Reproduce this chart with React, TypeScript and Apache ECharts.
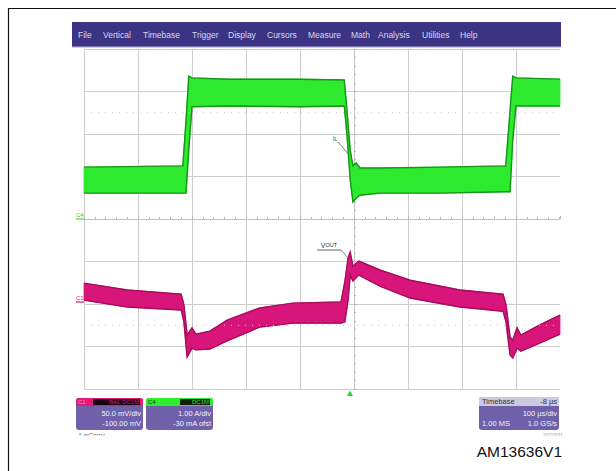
import React, { useEffect, useRef } from "react";
import * as echarts from "echarts";

// ---- data (time in µs, 100 µs/div, trigger at 0; amplitude in divisions) ----
const menuItems = ["File", "Vertical", "Timebase", "Trigger", "Display", "Cursors", "Measure", "Math", "Analysis", "Utilities", "Help"];

// C4 : inductor current (green band, upper / lower envelope)
const c4Time = [-500, -317, -311, -306, -300, -230, -100, -18, -13, -7, -2, 4, 11, 48, 159, 281, 289, 294, 300, 381.5];
const c4Top = [1.22, 1.25, 2.33, 3.36, 3.32, 3.29, 3.29, 3.27, 2.56, 1.62, 1.25, 1.32, 1.2, 1.2, 1.22, 1.25, 2.56, 3.36, 3.32, 3.29];
const c4Bottom = [0.61, 0.61, 0.61, 1.62, 2.64, 2.66, 2.64, 2.66, 1.98, 0.92, 0.4, 0.49, 0.56, 0.61, 0.61, 0.64, 0.64, 1.86, 2.66, 2.66];

// C1 : output voltage (magenta band)
const c1Time = [-500, -420, -320, -315, -309, -300, -293, -267, -235, -174, -113, -24, -17, -11, -7, -2, 9, 48, 104, 196, 276, 281.5, 289, 294, 302, 309, 344, 381.5];
const c1Top = [-1.51, -1.67, -1.77, -2.02, -2.73, -2.56, -2.71, -2.64, -2.38, -2.09, -1.98, -1.95, -1.48, -0.92, -0.78, -1.11, -0.99, -1.2, -1.44, -1.67, -1.77, -2.02, -2.78, -2.85, -2.56, -2.73, -2.49, -2.26];
const c1Bottom = [-1.91, -2.07, -2.14, -2.42, -3.25, -3.04, -3.08, -3.06, -2.87, -2.54, -2.45, -2.45, -2.42, -1.91, -1.32, -1.46, -1.32, -1.58, -1.86, -2.07, -2.17, -2.42, -3.2, -3.27, -3.04, -3.11, -2.92, -2.71];

const c1OffsetDiv = -2; // -100 mV at 50 mV/div
const c4OffsetDiv = 0;
const refLevels = [2.5, -2.5];

const xMin = -500;
const xMax = 381.5;
const yMin = -4;
const yMax = 4;

const FONT = "Liberation Sans, Arial, Helvetica, sans-serif";

function band(name: string, t: number[], top: number[], bot: number[], fill: string, edge: string) {
  const data = t.map((x, i) => [x, top[i], bot[i]]);
  return {
    type: "custom",
    name,
    data,
    silent: true,
    encode: { x: 0, y: [1, 2] },
    renderItem: (params: any, api: any) => {
      if (params.dataIndex !== 0) return null;
      const up = t.map((x, i) => api.coord([x, top[i]]));
      const dn = t.map((x, i) => api.coord([x, bot[i]]));
      const poly = up.concat(dn.slice().reverse());
      return {
        type: "group",
        children: [
          { type: "polygon", shape: { points: poly }, style: { fill, stroke: fill, lineWidth: 0.8 } },
          { type: "polyline", shape: { points: up }, style: { stroke: edge, lineWidth: 1.4, fill: null } },
          { type: "polyline", shape: { points: dn }, style: { stroke: edge, lineWidth: 1.4, fill: null } },
        ],
      };
    },
  };
}

export default function App() {
  const ref = useRef<HTMLDivElement>(null);

  useEffect(() => {
    const chart = echarts.init(ref.current!, null, { renderer: "svg" });
    const grid = { left: 84, top: 49, width: 476, height: 340 };
    const divPx = grid.height / (yMax - yMin);
    const zeroY = grid.top + grid.height / 2;

    const g: any[] = [];
    // outer frame
    g.push({ type: "rect", shape: { x: 8.5, y: 8.5, width: 640, height: 500 }, style: { fill: "none", stroke: "#111", lineWidth: 1.2 } });
    // menu bar
    g.push({ type: "rect", shape: { x: 72, y: 22, width: 489, height: 25 }, style: { fill: "#3c3483" } });
    g.push({ type: "line", shape: { x1: 72, y1: 47, x2: 561, y2: 47 }, style: { stroke: "#a9a6c6", lineWidth: 1 } });
    const menuX = [78, 103, 143, 192, 228, 267, 308, 351, 378, 422, 460];
    menuItems.forEach((m, i) => {
      g.push({ type: "text", x: menuX[i], y: 35, style: { text: m, fill: "#d9d7ea", font: `8.5px ${FONT}`, verticalAlign: "middle" } });
    });

    // channel offset markers
    const c4y = zeroY - c4OffsetDiv * divPx;
    const c1y = zeroY - c1OffsetDiv * divPx;
    g.push({ type: "text", x: 76, y: c4y - 4, style: { text: "C4", fill: "#33cc33", font: `6px ${FONT}`, verticalAlign: "middle" } });
    g.push({ type: "line", shape: { x1: 76, y1: c4y, x2: 84, y2: c4y }, style: { stroke: "#33cc33", lineWidth: 1 } });
    g.push({ type: "text", x: 76, y: c1y - 6, style: { text: "C1", fill: "#e0197c", font: `6px ${FONT}`, verticalAlign: "middle" } });
    g.push({ type: "line", shape: { x1: 76, y1: c1y - 2, x2: 84, y2: c1y - 2 }, style: { stroke: "#e0197c", lineWidth: 1.2 } });

    // trigger marker
    g.push({ type: "polygon", shape: { points: [[347, 396], [353, 396], [350, 390.5]] }, style: { fill: "#2fd02f" } });

    // annotations
    g.push({
      type: "text", x: 333, y: 138,
      style: { text: "{a|I}{b|L}", rich: { a: { font: `6.5px ${FONT}`, fill: "#444" }, b: { font: `4.5px ${FONT}`, fill: "#444", verticalAlign: "bottom" } }, verticalAlign: "middle" },
    });
    g.push({ type: "line", shape: { x1: 338, y1: 142, x2: 350, y2: 156 }, style: { stroke: "#808080", lineWidth: 1 } });
    g.push({
      type: "text", x: 329, y: 245,
      style: { text: "{a|V}{b|OUT}", rich: { a: { font: `7px ${FONT}`, fill: "#333" }, b: { font: `5.5px ${FONT}`, fill: "#333" } }, align: "center", verticalAlign: "middle" },
    });
    g.push({ type: "line", shape: { x1: 317, y1: 250, x2: 341, y2: 250 }, style: { stroke: "#666", lineWidth: 1 } });
    g.push({ type: "line", shape: { x1: 341, y1: 250, x2: 349, y2: 259 }, style: { stroke: "#808080", lineWidth: 1 } });

    // info boxes
    const bodyCol = "#6e61a9";
    const bodyTxt = "#f2f0ff";
    const small = `7.5px ${FONT}`;
    // C1
    g.push({ type: "rect", shape: { x: 76, y: 398, width: 67, height: 32, r: 3 }, style: { fill: bodyCol } });
    g.push({ type: "rect", shape: { x: 76, y: 398, width: 67, height: 8, r: [3, 3, 0, 0] }, style: { fill: "#e3197c" } });
    g.push({ type: "text", x: 78, y: 402, style: { text: "C1", fill: "#ff9fcf", font: `6px ${FONT}`, verticalAlign: "middle" } });
    g.push({ type: "rect", shape: { x: 93, y: 399, width: 47, height: 6 }, style: { fill: "#1c0212" } });
    g.push({ type: "text", x: 139, y: 402, style: { text: "BwL DC1M", fill: "#d0187a", font: `6px ${FONT}`, align: "right", verticalAlign: "middle" } });
    g.push({ type: "text", x: 141, y: 413.5, style: { text: "50.0 mV/div", fill: bodyTxt, font: small, align: "right", verticalAlign: "middle" } });
    g.push({ type: "text", x: 141, y: 423.5, style: { text: "-100.00 mV", fill: bodyTxt, font: small, align: "right", verticalAlign: "middle" } });
    // C4
    g.push({ type: "rect", shape: { x: 146, y: 398, width: 67, height: 32, r: 3 }, style: { fill: bodyCol } });
    g.push({ type: "rect", shape: { x: 146, y: 398, width: 67, height: 8, r: [3, 3, 0, 0] }, style: { fill: "#2eee2e" } });
    g.push({ type: "text", x: 148, y: 402, style: { text: "C4", fill: "#0b400b", font: `6px ${FONT}`, verticalAlign: "middle" } });
    g.push({ type: "rect", shape: { x: 180, y: 399, width: 30, height: 6 }, style: { fill: "#0c200c" } });
    g.push({ type: "text", x: 209, y: 402, style: { text: "DC1M", fill: "#3ce03c", font: `6px ${FONT}`, align: "right", verticalAlign: "middle" } });
    g.push({ type: "text", x: 211, y: 413.5, style: { text: "1.00 A/div", fill: bodyTxt, font: small, align: "right", verticalAlign: "middle" } });
    g.push({ type: "text", x: 211, y: 423.5, style: { text: "-30 mA ofst", fill: bodyTxt, font: small, align: "right", verticalAlign: "middle" } });
    // Timebase
    g.push({ type: "rect", shape: { x: 479, y: 397, width: 80, height: 33, r: 3 }, style: { fill: bodyCol } });
    g.push({ type: "rect", shape: { x: 479, y: 397, width: 80, height: 9, r: [3, 3, 0, 0] }, style: { fill: "#cdc9e2" } });
    g.push({ type: "text", x: 482, y: 401.5, style: { text: "Timebase", fill: "#333", font: small, verticalAlign: "middle" } });
    g.push({ type: "text", x: 557, y: 401.5, style: { text: "-8 µs", fill: "#333", font: small, align: "right", verticalAlign: "middle" } });
    g.push({ type: "text", x: 557, y: 413.5, style: { text: "100 µs/div", fill: bodyTxt, font: small, align: "right", verticalAlign: "middle" } });
    g.push({ type: "text", x: 482, y: 423.5, style: { text: "1.00 MS", fill: bodyTxt, font: small, verticalAlign: "middle" } });
    g.push({ type: "text", x: 557, y: 423.5, style: { text: "1.0 GS/s", fill: bodyTxt, font: small, align: "right", verticalAlign: "middle" } });

    // cropped LeCroy logo / date (only top edge visible)
    g.push({ type: "text", x: 79, y: 431, style: { text: "LeCroy", fill: "#666", font: `8px ${FONT}`, verticalAlign: "top" } });
    g.push({ type: "text", x: 543, y: 432, style: { text: "10/21/2011", fill: "#888", font: `4px ${FONT}`, verticalAlign: "top" } });
    g.push({ type: "rect", shape: { x: 70, y: 435.5, width: 495, height: 8 }, style: { fill: "#fff" } });

    // figure code
    g.push({ type: "text", x: 562, y: 451, style: { text: "AM13636V1", fill: "#111", font: `15.5px ${FONT}`, align: "right", verticalAlign: "middle" } });

    const gridCol = "#cdcdcd";
    const xSplit = [gridCol, gridCol, gridCol, gridCol, gridCol, gridCol, gridCol, gridCol, gridCol, "rgba(0,0,0,0)"];
    const ySplit = [gridCol, gridCol, gridCol, gridCol, "rgba(0,0,0,0)", gridCol, gridCol, gridCol, gridCol];

    chart.setOption({
      animation: false,
      backgroundColor: "#fff",
      grid: { ...grid, containLabel: false },
      xAxis: {
        type: "value", min: xMin, max: xMax, interval: 100,
        axisLine: { show: true, onZero: true, lineStyle: { color: "#b5b5b5", type: "dotted", width: 1 } },
        axisTick: { show: true, inside: true, length: 3, lineStyle: { color: "#b5b5b5" } },
        minorTick: { show: true, splitNumber: 5, length: 2, lineStyle: { color: "#b5b5b5" } },
        axisLabel: { show: false },
        splitLine: { show: true, lineStyle: { color: xSplit, width: 1 } },
      },
      yAxis: {
        type: "value", min: yMin, max: yMax, interval: 1,
        axisLine: { show: true, onZero: true, lineStyle: { color: "#c4c4c4", width: 1 } },
        axisTick: { show: true, inside: true, length: 3, lineStyle: { color: "#b5b5b5" } },
        minorTick: { show: true, splitNumber: 5, length: 2, lineStyle: { color: "#b5b5b5" } },
        axisLabel: { show: false },
        splitLine: { show: true, lineStyle: { color: ySplit, width: 1 } },
      },
      series: [
        ...refLevels.map((lv) => ({
          type: "line", silent: true, symbol: "none",
          data: [[xMin, lv], [xMax, lv]],
          lineStyle: { color: "#c8c8c8", type: [1, 6], width: 1.2 },
        })),
        band("C4", c4Time, c4Top, c4Bottom, "#2eea2e", "#169616"),
        band("C1", c1Time, c1Top, c1Bottom, "#d8157b", "#a80c5c"),
      ],
      graphic: g,
    });
    return () => chart.dispose();
  }, []);

  return <div ref={ref} style={{ position: "fixed", left: 0, top: 0, width: 616, height: 471, background: "#fff" }} />;
}
